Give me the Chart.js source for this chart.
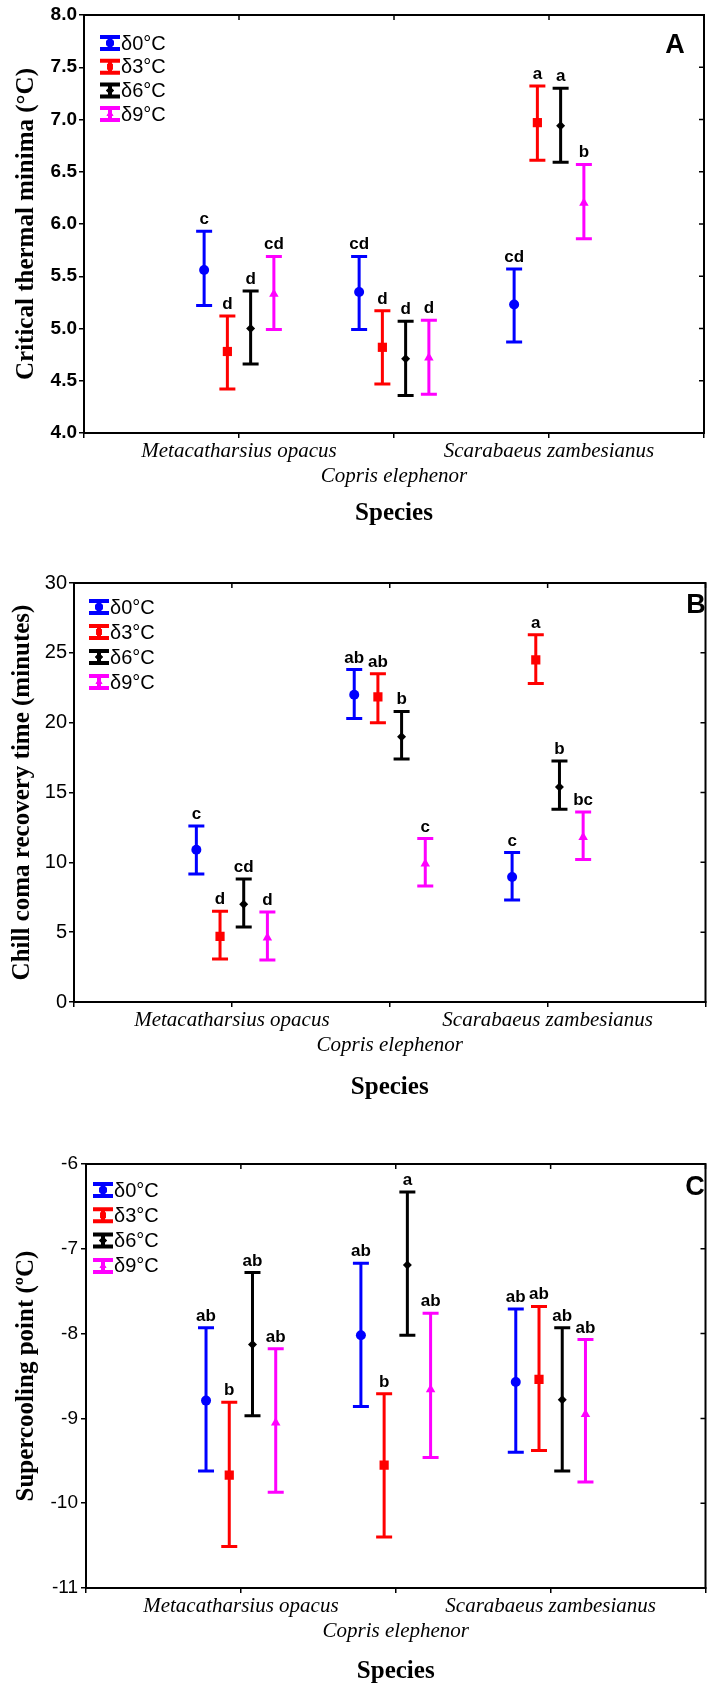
<!DOCTYPE html>
<html>
<head>
<meta charset="utf-8">
<script src="https://cdn.jsdelivr.net/npm/chart.js@4.4.0/dist/chart.umd.min.js"></script>
<style>
  html, body { margin: 0; padding: 0; background: #fff; }
  #page { position: relative; width: 712px; height: 1690px; overflow: hidden; }
  .panel { position: absolute; left: 0; width: 712px; }
  .panel canvas { display: block; }
</style>
</head>
<body>
<div id="page">
  <div class="panel" style="top:0px"><canvas id="chart-a" width="712" height="545"></canvas></div>
  <div class="panel" style="top:560px"><canvas id="chart-b" width="712" height="565"></canvas></div>
  <div class="panel" style="top:1140px"><canvas id="chart-c" width="712" height="550"></canvas></div>
</div>
<script>
const species = ['Metacatharsius opacus', 'Copris elephenor', 'Scarabaeus zambesianus'];
const treatments = ['δ0°C', 'δ3°C', 'δ6°C', 'δ9°C'];

// Panel A - critical thermal minima, rows = treatment, columns = species
const ctminMean = [[5.56, 5.35, 5.23], [4.78, 4.82, 6.97], [5.00, 4.71, 6.94], [5.33, 4.72, 6.20]];
const ctminHigh = [[5.93, 5.69, 5.57], [5.12, 5.17, 7.32], [5.36, 5.07, 7.30], [5.69, 5.08, 6.57]];
const ctminLow = [[5.22, 4.99, 4.87], [4.42, 4.47, 6.61], [4.66, 4.36, 6.59], [4.99, 4.37, 5.86]];
const ctminLetters = [['c', 'cd', 'cd'], ['d', 'd', 'a'], ['d', 'd', 'a'], ['cd', 'd', 'b']];

// Panel B - chill coma recovery time
const ccrtMean = [[10.9, 22.0, 8.95], [4.7, 21.85, 24.5], [7.0, 19.0, 15.4], [4.6, 9.9, 11.8]];
const ccrtHigh = [[12.6, 23.8, 10.7], [6.5, 23.5, 26.3], [8.8, 20.8, 17.25], [6.44, 11.7, 13.6]];
const ccrtLow = [[9.16, 20.3, 7.3], [3.08, 20.0, 22.8], [5.37, 17.4, 13.8], [3.0, 8.3, 10.2]];
const ccrtLetters = [['c', 'ab', 'c'], ['d', 'ab', 'a'], ['cd', 'b', 'b'], ['d', 'c', 'bc']];

// Panel C - supercooling point
const scpMean = [[-8.79, -8.02, -8.57], [-9.67, -9.55, -8.54], [-8.13, -7.19, -8.78], [-9.05, -8.66, -8.95]];
const scpHigh = [[-7.93, -7.17, -7.71], [-8.81, -8.71, -7.68], [-7.28, -6.33, -7.93], [-8.18, -7.76, -8.07]];
const scpLow = [[-9.62, -8.86, -9.40], [-10.51, -10.40, -9.38], [-8.97, -8.02, -9.62], [-9.87, -9.46, -9.75]];
const scpLetters = [['ab', 'ab', 'ab'], ['b', 'b', 'ab'], ['ab', 'a', 'ab'], ['ab', 'ab', 'ab']];

// styling
const colors = ['#0000ff', '#ff0000', '#000000', '#ff00ff'];
const markers = ['circle', 'rect', 'rectRot', 'triangle'];
const markerRadius = [5, 6.5, 4.5, 5.5];
const groupOffsets = [-0.225, -0.075, 0.075, 0.225];
const SANS = '"Liberation Sans", Arial, sans-serif';
const SERIF = '"Liberation Serif", "Times New Roman", serif';

const errorBars = {
  id: 'errorBars',
  beforeDatasetsDraw(chart) {
    const {ctx, scales: {x, y}} = chart;
    ctx.save();
    chart.data.datasets.forEach((ds) => {
      ctx.strokeStyle = ds.borderColor;
      ctx.lineWidth = 3;
      ds.data.forEach((pt) => {
        const px = x.getPixelForValue(pt.x);
        const top = y.getPixelForValue(pt.high);
        const bot = y.getPixelForValue(pt.low);
        ctx.beginPath();
        ctx.moveTo(px, top);
        ctx.lineTo(px, bot);
        ctx.moveTo(px - 8, top);
        ctx.lineTo(px + 8, top);
        ctx.moveTo(px - 8, bot);
        ctx.lineTo(px + 8, bot);
        ctx.stroke();
      });
    });
    ctx.restore();
  },
  afterDatasetsDraw(chart) {
    const {ctx, scales: {x, y}} = chart;
    ctx.save();
    ctx.fillStyle = '#000';
    ctx.font = `bold 17px ${SANS}`;
    ctx.textAlign = 'center';
    ctx.textBaseline = 'alphabetic';
    chart.data.datasets.forEach((ds) => {
      ds.data.forEach((pt) => {
        ctx.fillText(pt.letter, x.getPixelForValue(pt.x), y.getPixelForValue(pt.high) - 7);
      });
    });
    ctx.restore();
  },
};

const frame = {
  id: 'frame',
  afterDraw(chart, args, opts) {
    const {ctx, chartArea: area, scales: {x, y}} = chart;
    ctx.save();
    ctx.strokeStyle = '#000';
    ctx.lineWidth = 2;
    ctx.strokeRect(area.left, area.top, area.right - area.left, area.bottom - area.top);
    // inside ticks on the top and right edges
    ctx.lineWidth = 1.5;
    ctx.beginPath();
    x.ticks.forEach((t) => {
      const px = x.getPixelForValue(t.value);
      ctx.moveTo(px, area.top);
      ctx.lineTo(px, area.top + 5);
    });
    y.ticks.forEach((t) => {
      const py = y.getPixelForValue(t.value);
      ctx.moveTo(area.right, py);
      ctx.lineTo(area.right - 5, py);
    });
    ctx.stroke();
    // panel letter
    ctx.fillStyle = '#000';
    ctx.font = `bold 27px ${SANS}`;
    ctx.textAlign = 'center';
    ctx.textBaseline = 'middle';
    ctx.fillText(opts.letter, opts.letterX, area.top + opts.letterY);
    // legend
    ctx.font = `${opts.legendFont}px ${SANS}`;
    ctx.textAlign = 'left';
    chart.data.datasets.forEach((ds, i) => {
      const cx = area.left + opts.legendX + 10;
      const cy = area.top + opts.legendY + i * opts.legendStep;
      ctx.strokeStyle = ds.borderColor;
      ctx.fillStyle = ds.borderColor;
      ctx.lineWidth = 4;
      ctx.beginPath();
      ctx.moveTo(cx - 10, cy - 6);
      ctx.lineTo(cx + 10, cy - 6);
      ctx.moveTo(cx - 10, cy + 6);
      ctx.lineTo(cx + 10, cy + 6);
      ctx.moveTo(cx, cy - 6);
      ctx.lineTo(cx, cy + 6);
      ctx.stroke();
      Chart.helpers.drawPoint(ctx, {pointStyle: ds.pointStyle, rotation: 0, borderWidth: 0, radius: 4}, cx, cy);
      ctx.fill();
      ctx.fillStyle = '#000';
      ctx.fillText(ds.label, cx + 11, cy + 1);
    });
    ctx.restore();
  },
};

function buildPanel(canvasId, series, p) {
  const datasets = treatments.map((label, s) => ({
    label,
    data: species.map((_, k) => ({
      x: k + 1 + groupOffsets[s],
      y: series.mean[s][k],
      low: series.low[s][k],
      high: series.high[s][k],
      letter: series.letters[s][k],
    })),
    pointStyle: markers[s],
    pointRadius: markerRadius[s],
    backgroundColor: colors[s],
    borderColor: colors[s],
    borderWidth: 0,
    showLine: false,
  }));
  const canvas = document.getElementById(canvasId);
  new Chart(canvas, {
    type: 'scatter',
    data: {datasets},
    plugins: [errorBars, frame],
    options: {
      responsive: false,
      animation: false,
      devicePixelRatio: 1,
      events: [],
      layout: {padding: {top: p.plotTop, right: 712 - p.plotRight, left: 0, bottom: 0}},
      scales: {
        x: {
          type: 'linear',
          min: 0,
          max: 4,
          afterFit: (scale) => { scale.height = canvas.height - p.plotBottom; },
          grid: {drawOnChartArea: false, color: '#000', lineWidth: 1.5, tickLength: 5},
          border: {color: '#000', width: 2},
          ticks: {
            stepSize: 1,
            autoSkip: false,
            maxRotation: 0,
            padding: 1,
            color: '#000',
            font: {family: SERIF, style: 'italic', size: 21, lineHeight: '25px'},
            callback: (v) => {
              if (v === 2) return ['', species[1]];
              if (v === 1 || v === 3) return species[v - 1];
              return '';
            },
          },
          title: {
            display: true,
            text: 'Species',
            color: '#000',
            font: {family: SERIF, weight: 'bold', size: 25},
            padding: {top: 0, bottom: p.speciesPad},
          },
        },
        y: {
          min: p.yMin,
          max: p.yMax,
          afterFit: (scale) => { scale.width = p.plotLeft; },
          grid: {drawOnChartArea: false, color: '#000', lineWidth: 1.5, tickLength: 5},
          border: {color: '#000', width: 2},
          ticks: {
            stepSize: p.yStep,
            padding: p.tickPad,
            color: '#000',
            font: {family: SANS, size: p.tickSize, weight: p.tickWeight},
            callback: p.tickFormat,
          },
          title: {
            display: true,
            text: p.yTitle,
            color: '#000',
            font: {family: SERIF, weight: 'bold', size: 25},
            padding: {top: p.yTitlePad, bottom: 0},
          },
        },
      },
      plugins: {
        legend: {display: false},
        tooltip: {enabled: false},
        frame: p.frame,
      },
    },
  });
}

buildPanel('chart-a', {mean: ctminMean, high: ctminHigh, low: ctminLow, letters: ctminLetters}, {
  plotTop: 15, plotBottom: 433, plotLeft: 84, plotRight: 704,
  yMin: 4, yMax: 8, yStep: 0.5, tickSize: 19, tickWeight: 'bold', tickPad: 2,
  tickFormat: (v) => v.toFixed(1),
  yTitle: 'Critical thermal minima (°C)', yTitlePad: 12, speciesPad: 16,
  frame: {letter: 'A', letterX: 675, letterY: 31, legendX: 16, legendY: 28, legendStep: 23.7, legendFont: 20},
});

buildPanel('chart-b', {mean: ccrtMean, high: ccrtHigh, low: ccrtLow, letters: ccrtLetters}, {
  plotTop: 23, plotBottom: 442, plotLeft: 74, plotRight: 710,
  yMin: 0, yMax: 30, yStep: 5, tickSize: 20, tickWeight: 'normal', tickPad: 2,
  tickFormat: (v) => String(v),
  yTitle: 'Chill coma recovery time (minutes)', yTitlePad: 8, speciesPad: 22,
  frame: {letter: 'B', letterX: 696, letterY: 23, legendX: 15, legendY: 24, legendStep: 25, legendFont: 20},
});

buildPanel('chart-c', {mean: scpMean, high: scpHigh, low: scpLow, letters: scpLetters}, {
  plotTop: 24, plotBottom: 448, plotLeft: 86, plotRight: 708,
  yMin: -11, yMax: -6, yStep: 1, tickSize: 19, tickWeight: 'normal', tickPad: 3,
  tickFormat: (v) => String(v),
  yTitle: 'Supercooling point (ºC)', yTitlePad: 12, speciesPad: 3,
  frame: {letter: 'C', letterX: 695, letterY: 24, legendX: 7, legendY: 26, legendStep: 25.3, legendFont: 20},
});
</script>
</body>
</html>
